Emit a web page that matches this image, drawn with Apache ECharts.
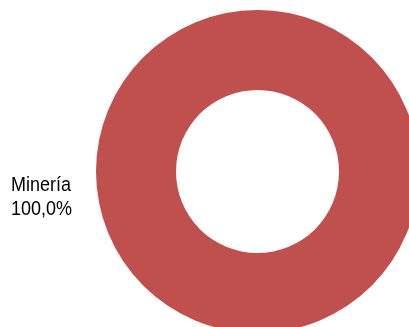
<!DOCTYPE html>
<html>
<head>
<meta charset="utf-8">
<style>
  html, body { margin: 0; padding: 0; background: #ffffff; }
  #chart { width: 409px; height: 327px; }
</style>
<script src="https://cdn.jsdelivr.net/npm/echarts@6/dist/echarts.min.js"></script>
</head>
<body>
<div id="chart"></div>
<script>
// Sector shares of the total
const categories = ['Minería'];
const values = [100];
const colors = ['#C0504D'];

const chart = echarts.init(document.getElementById('chart'), null, { renderer: 'canvas' });

const total = values.reduce((a, b) => a + b, 0);
const fmtPct = v => (v / total * 100).toFixed(1).replace('.', ',') + '%';

const data = categories.map((name, i) => ({
  name: name,
  value: values[i],
  itemStyle: { color: colors[i] }
}));

// Slice caption, drawn as a slightly tall (condensed-looking) text block left of the ring
const captionText = categories.map((name, i) => name + '\n' + fmtPct(values[i])).join('\n');

chart.setOption({
  animation: false,
  backgroundColor: '#ffffff',
  graphic: [{
    type: 'text',
    x: 11,
    y: 197,
    scaleX: 1,
    scaleY: 1.16,
    silent: true,
    style: {
      text: captionText,
      fontFamily: '"Liberation Sans", Arial, sans-serif',
      fontSize: 18,
      lineHeight: 21,
      fill: '#000000',
      align: 'left',
      verticalAlign: 'middle'
    }
  }],
  series: [{
    type: 'pie',
    center: [257.5, 171.5],
    radius: [81.5, 161.5],
    startAngle: 90,
    clockwise: true,
    emphasis: { disabled: true },
    data: data,
    label: { show: false },
    labelLine: { show: false }
  }]
});
</script>
</body>
</html>
